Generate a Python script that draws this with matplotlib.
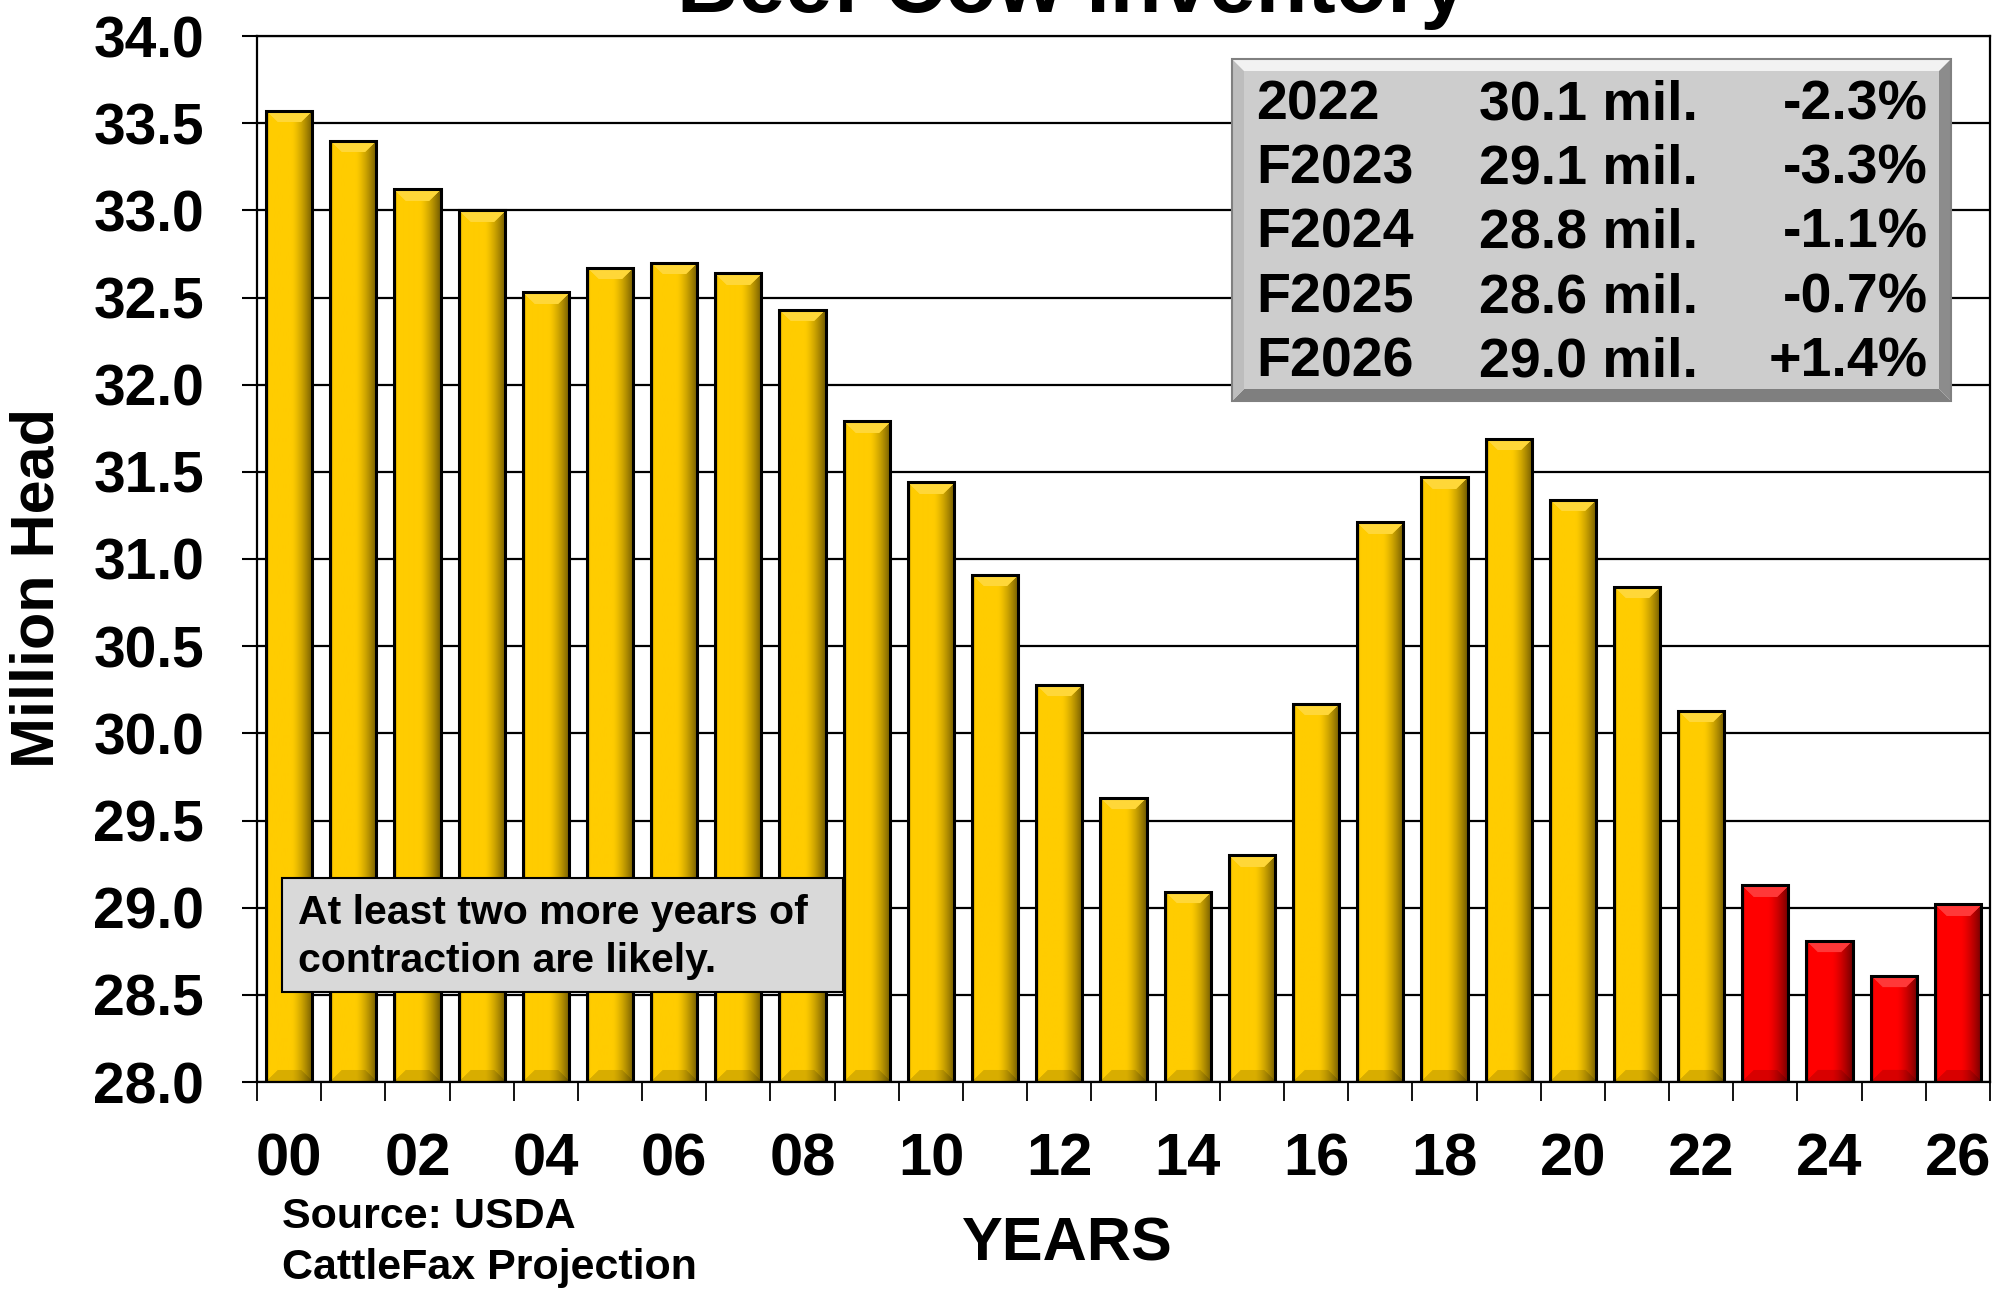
import matplotlib
matplotlib.use('Agg')
import matplotlib.pyplot as plt
import numpy as np
from matplotlib.patches import Rectangle, Polygon
from matplotlib.colors import to_rgb

# ---------------- data ----------------
years = list(range(2000, 2027))
values = [33.57, 33.40, 33.12, 33.00, 32.53, 32.67, 32.70, 32.64, 32.43, 31.79,
          31.44, 30.91, 30.28, 29.63, 29.09, 29.30, 30.17, 31.21, 31.47, 31.69,
          31.34, 30.84, 30.13, 29.13, 28.81, 28.61, 29.02]
forecast_start = 2023
tick_labels = ['00', '02', '04', '06', '08', '10', '12', '14', '16', '18', '20', '22', '24', '26']
y_ticks = [28.0, 28.5, 29.0, 29.5, 30.0, 30.5, 31.0, 31.5, 32.0, 32.5, 33.0, 33.5, 34.0]
table_years = ['2022', 'F2023', 'F2024', 'F2025', 'F2026']
table_values = ['30.1 mil.', '29.1 mil.', '28.8 mil.', '28.6 mil.', '29.0 mil.']
table_changes = ['-2.3%', '-3.3%', '-1.1%', '-0.7%', '+1.4%']
title = 'Beef Cow Inventory'
note = 'At least two more years of\ncontraction are likely.'
source = 'Source: USDA\nCattleFax Projection'

plt.rcParams['font.family'] = ['Liberation Sans', 'DejaVu Sans']
plt.rcParams['font.weight'] = 'bold'

W, H = 2013, 1291
fig = plt.figure(figsize=(W / 100, H / 100), dpi=100)
fig.patch.set_facecolor('white')

def fx(px):
    return px / W

def fy(py):
    return 1 - py / H

ax = fig.add_axes([fx(257), fy(1082), fx(1990) - fx(257), fy(36) - fy(1082)])
ax.set_xlim(-0.5, len(years) - 0.5)
ax.set_ylim(y_ticks[0], y_ticks[-1])

# grid
for yv in y_ticks:
    ax.axhline(yv, color='black', lw=1.6, zorder=1)

x = np.arange(len(years))
base = y_ticks[0]
heights = np.array(values) - base
colors = ['#FF0000' if yr >= forecast_start else '#FFCC00' for yr in years]
bw = 0.72
bars = ax.bar(x, heights, bottom=base, width=bw, color=colors, edgecolor='none', zorder=3)

# bevel shading images
fig.canvas.draw()
def px_size(b):
    bb = b.get_window_extent()
    return max(int(round(bb.width)), 4), max(int(round(bb.height)), 4)

def bevel_image(rgb, nx, ny, bev):
    rgb = np.array(rgb)
    C, R = np.meshgrid(np.arange(nx), np.arange(ny))
    t = C / (nx - 1)
    shade = np.where(t < 0.55, 1.0, 1.0 - 0.55 * ((t - 0.55) / 0.45) ** 1.4)
    shade = np.where(t < 0.05, 0.9, shade)
    img = rgb[None, None, :] * shade[..., None]
    dt, db, dl, dr = R, ny - 1 - R, C, nx - 1 - C
    m = np.minimum.reduce([dt, db, dl, dr])
    inb = m < bev
    top = inb & (dt == m)
    bot = inb & (db == m) & ~top
    light = rgb + (1 - rgb) * 0.22
    img[top] = light
    img[bot] = img[bot] * 0.85
    img = np.clip(img, 0, 1)
    return img

for b, c in zip(bars, colors):
    nx, ny = px_size(b)
    img = bevel_image(to_rgb(c), nx, ny, 12)
    x0, y0 = b.get_x(), b.get_y()
    im = ax.imshow(img, extent=[x0, x0 + b.get_width(), y0, y0 + b.get_height()],
                   aspect='auto', zorder=3.5, interpolation='bilinear')
    im.set_clip_path(b)

ax.bar(x, heights, bottom=base, width=bw, fill=False, edgecolor='black', lw=2.2, zorder=4)

# axes styling
for s in ax.spines.values():
    s.set_color('black')
    s.set_linewidth(1.6)
    s.set_zorder(5)
ax.set_yticks(y_ticks)
ax.set_yticklabels([f'{v:.1f}' for v in y_ticks], fontsize=41, fontweight='bold')
ax.tick_params(axis='y', direction='out', length=11, width=1.5, pad=27)

ax.set_xticks(np.arange(-0.5, len(years), 1.0))
ax.set_xticklabels([])
ax.tick_params(axis='x', which='major', direction='out', length=14, width=1.3)
ax.set_xticks(x[::2], minor=True)
ax.set_xticklabels(tick_labels, minor=True, fontsize=43, fontweight='bold')
ax.tick_params(axis='x', which='minor', length=0, pad=36)

# texts
fig.text(fx(1072), fy(12), title, ha='center', va='baseline', fontsize=61, fontweight='bold')
fig.text(fx(38), fy(588), 'Million Head', rotation=90, ha='center', va='center',
         fontsize=44, fontweight='bold')
fig.text(fx(1067), fy(1245), 'YEARS', ha='center', va='center', fontsize=44, fontweight='bold')
fig.text(fx(282), fy(1217), source.split('\n')[0], ha='left', va='center', fontsize=31, fontweight='bold')
fig.text(fx(282), fy(1268), source.split('\n')[1], ha='left', va='center', fontsize=31, fontweight='bold')

# note box
fig.patches.append(Rectangle((fx(282), fy(992)), fx(843) - fx(282), fy(878) - fy(992),
                             transform=fig.transFigure, facecolor='#D9D9D9', edgecolor='black',
                             lw=1.5, zorder=6))
for i, line in enumerate(note.split('\n')):
    fig.text(fx(298), fy(913 + 48 * i), line, ha='left', va='center', fontsize=29.5,
             fontweight='bold', zorder=7)

# table box with bevel
bx0, by0, bx1, by1 = 1232, 59, 1951, 401
bv = 12
def P(pts, col):
    fig.patches.append(Polygon([(fx(a), fy(b)) for a, b in pts], closed=True,
                               transform=fig.transFigure, facecolor=col, edgecolor='none', zorder=6))
P([(bx0, by0), (bx1, by0), (bx1 - bv, by0 + bv), (bx0 + bv, by0 + bv)], '#F2F2F2')
P([(bx0, by1), (bx1, by1), (bx1 - bv, by1 - bv), (bx0 + bv, by1 - bv)], '#7F7F7F')
P([(bx0, by0), (bx0 + bv, by0 + bv), (bx0 + bv, by1 - bv), (bx0, by1)], '#BDBDBD')
P([(bx1, by0), (bx1 - bv, by0 + bv), (bx1 - bv, by1 - bv), (bx1, by1)], '#8C8C8C')
fig.patches.append(Rectangle((fx(bx0 + bv), fy(by1 - bv)), fx(bx1 - bv) - fx(bx0 + bv),
                             fy(by0 + bv) - fy(by1 - bv), transform=fig.transFigure,
                             facecolor='#CDCDCD', edgecolor='none', zorder=6))
fig.patches.append(Rectangle((fx(bx0), fy(by1)), fx(bx1) - fx(bx0), fy(by0) - fy(by1),
                             transform=fig.transFigure, facecolor='none', edgecolor='#808080',
                             lw=1.5, zorder=6))
for i in range(len(table_years)):
    yy = fy(105 + 64.5 * i)
    fig.text(fx(1256), yy, table_years[i], ha='left', va='center', fontsize=40, fontweight='bold', zorder=7)
    fig.text(fx(1479), yy, table_values[i], ha='left', va='center', fontsize=40, fontweight='bold', zorder=7)
    fig.text(fx(1928), yy, table_changes[i], ha='right', va='center', fontsize=40, fontweight='bold', zorder=7)

fig.savefig('out.png', dpi=100)
